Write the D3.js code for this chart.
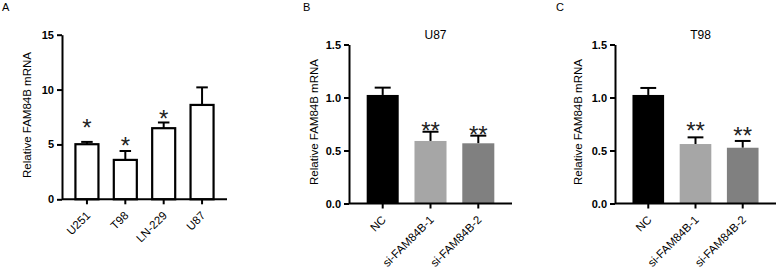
<!DOCTYPE html>
<html>
<head>
<meta charset="utf-8">
<script src="https://cdn.jsdelivr.net/npm/d3@7"></script>
<style>
    body { margin: 0; background: #fff; }
    svg { display: block; font-family: 'Liberation Sans', Arial, sans-serif; }
    .yAxis .tick text { font-weight: bold; }
    .xAxis .tick text { font-weight: normal; }
</style>
</head>
<body>
<div id="chart"></div>
<script>
'use strict';

// Panel A data: FAM84B expression per cell line
const cellLines = ['U251', 'T98', 'LN-229', 'U87'];
const cellMean = [5.02, 3.59, 6.48, 8.6];
const cellSD = [0.21, 0.81, 0.52, 1.6];
const cellSig = ['*', '*', '*', ''];
const cellSigLevel = [6.98, 5.4, 7.84, null];
const cellTicks = [0, 5, 10, 15];

// Panels B and C data: knockdown groups
const siGroups = ['NC', 'si-FAM84B-1', 'si-FAM84B-2'];
const siColors = ['#000000', '#a6a6a6', '#808080'];
const siTicks = [0, 0.5, 1.0, 1.5];

const u87Mean = [1.024, 0.59, 0.568];
const u87SD = [0.069, 0.087, 0.072];
const u87Sig = ['', '**', '**'];
const u87SigLevel = [null, 0.74, 0.70];

const t98Mean = [1.024, 0.561, 0.526];
const t98SD = [0.066, 0.063, 0.064];
const t98Sig = ['', '**', '**'];
const t98SigLevel = [null, 0.734, 0.693];

// Svg
const svg = d3.select('#chart')
    .append('svg')
    .attr('width', 777)
    .attr('height', 269);

/*
drawPanel
 */
function drawPanel(cfg) {
    const g = svg.append('g').attr('class', 'panel');

    const x = d3.scaleBand()
        .domain(cfg.cats)
        .range([cfg.left, cfg.left + cfg.width])
        .paddingInner(cfg.padIn)
        .paddingOuter(cfg.padOut);
    const y = d3.scaleLinear()
        .domain([0, cfg.max])
        .range([cfg.bottom, cfg.top]);

    const rows = cfg.cats.map((c, i) => ({
        cat: c, mean: cfg.mean[i], sd: cfg.sd[i],
        sig: cfg.sig[i], sigLevel: cfg.sigLevel[i],
        fill: cfg.fills ? cfg.fills[i] : '#fff'
    }));

    // Error bars (upper only)
    const capW = x.bandwidth() * 0.5;
    const errG = g.selectAll('.err')
        .data(rows)
        .join('g')
        .attr('class', 'err')
        .attr('stroke', '#000')
        .attr('stroke-width', 2);
    errG.append('line')
        .attr('x1', d => x(d.cat) + x.bandwidth() / 2)
        .attr('x2', d => x(d.cat) + x.bandwidth() / 2)
        .attr('y1', d => y(d.mean))
        .attr('y2', d => y(d.mean + d.sd));
    errG.append('line')
        .attr('x1', d => x(d.cat) + x.bandwidth() / 2 - capW / 2)
        .attr('x2', d => x(d.cat) + x.bandwidth() / 2 + capW / 2)
        .attr('y1', d => y(d.mean + d.sd))
        .attr('y2', d => y(d.mean + d.sd));

    // Bars
    g.selectAll('.bar')
        .data(rows)
        .join('rect')
        .attr('class', 'bar')
        .attr('x', d => x(d.cat))
        .attr('width', x.bandwidth())
        .attr('y', d => y(d.mean))
        .attr('height', d => y(0) - y(d.mean))
        .attr('fill', d => d.fill)
        .attr('stroke', cfg.fills ? 'none' : '#000')
        .attr('stroke-width', 2.2);

    // Significance stars
    g.selectAll('.sig')
        .data(rows.filter(d => d.sig))
        .join('text')
        .attr('class', 'sig')
        .attr('x', d => x(d.cat) + x.bandwidth() / 2)
        .attr('y', d => y(d.sigLevel) + 13.5)
        .attr('text-anchor', 'middle')
        .attr('font-size', 24)
        .attr('fill', '#222')
        .text(d => d.sig);

    // Y axis
    const yAxis = g.append('g')
        .attr('class', 'yAxis')
        .attr('transform', `translate(${cfg.left},0)`)
        .call(d3.axisLeft(y)
            .tickValues(cfg.ticks)
            .tickFormat(cfg.fmt)
            .tickSize(5)
            .tickSizeOuter(0)
            .tickPadding(3));
    yAxis.selectAll('path, line').attr('stroke-width', 2);
    yAxis.selectAll('text').attr('font-size', 11).attr('fill', '#000');

    // X axis
    const xAxis = g.append('g')
        .attr('class', 'xAxis')
        .attr('transform', `translate(0,${cfg.bottom})`)
        .call(d3.axisBottom(x)
            .tickSize(5)
            .tickSizeOuter(0));
    xAxis.select('.domain').attr('d', `M${cfg.left},0H${cfg.left + cfg.width}`);
    xAxis.selectAll('path, line').attr('stroke-width', 2);
    xAxis.selectAll('text')
        .attr('font-size', 11.5)
        .attr('fill', '#000')
        .attr('x', 0)
        .attr('y', 0)
        .attr('dy', 0)
        .attr('text-anchor', 'end')
        .attr('transform', 'translate(4,17) rotate(-45)');

    // Y label
    g.append('text')
        .attr('transform', `translate(${cfg.labelX},${(cfg.top + cfg.bottom) / 2 - 2}) rotate(-90)`)
        .attr('text-anchor', 'middle')
        .attr('font-size', 11.5)
        .text('Relative FAM84B mRNA');

    // Title
    if (cfg.title) {
        g.append('text')
            .attr('x', cfg.left + cfg.width / 2 + 5)
            .attr('y', 39)
            .attr('text-anchor', 'middle')
            .attr('font-size', 12)
            .text(cfg.title);
    }

    // Panel letter
    g.append('text')
        .attr('x', cfg.letterX)
        .attr('y', 11)
        .attr('font-size', 11)
        .text(cfg.letter);
}

drawPanel({
    letter: 'A', letterX: 2, title: null,
    cats: cellLines, mean: cellMean, sd: cellSD, sig: cellSig, sigLevel: cellSigLevel,
    fills: null, max: 15, ticks: cellTicks, fmt: d3.format('d'),
    left: 62, width: 165, top: 34.7, bottom: 199.3, padIn: 0.4, padOut: 0.35,
    labelX: 31
});

drawPanel({
    letter: 'B', letterX: 303, title: 'U87',
    cats: siGroups, mean: u87Mean, sd: u87SD, sig: u87Sig, sigLevel: u87SigLevel,
    fills: siColors, max: 1.5, ticks: siTicks, fmt: d3.format('.1f'),
    left: 349, width: 163, top: 44.5, bottom: 203.5, padIn: 0.33, padOut: 0.37,
    labelX: 318
});

drawPanel({
    letter: 'C', letterX: 556, title: 'T98',
    cats: siGroups, mean: t98Mean, sd: t98SD, sig: t98Sig, sigLevel: t98SigLevel,
    fills: siColors, max: 1.5, ticks: siTicks, fmt: d3.format('.1f'),
    left: 615, width: 161, top: 44.5, bottom: 203.5, padIn: 0.33, padOut: 0.37,
    labelX: 582
});
</script>
</body>
</html>
